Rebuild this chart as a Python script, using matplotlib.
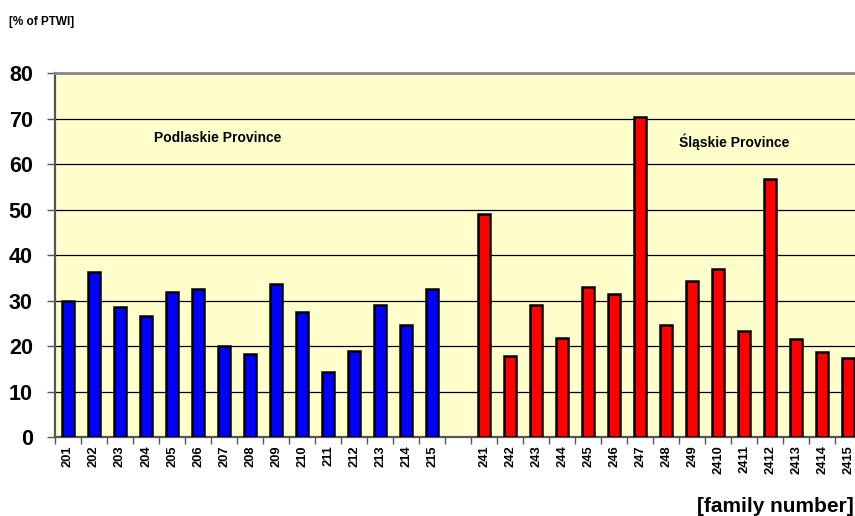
import numpy as np
import matplotlib
matplotlib.use("Agg")
import matplotlib.pyplot as plt

plt.rcParams['font.family'] = ['Liberation Sans', 'DejaVu Sans']

# family numbers and values (% of PTWI)
podlaskie_families = ['201', '202', '203', '204', '205', '206', '207', '208',
                      '209', '210', '211', '212', '213', '214', '215']
podlaskie_values = [30.0, 36.2, 28.5, 26.5, 31.9, 32.6, 20.1, 18.2,
                    33.7, 27.5, 14.3, 19.0, 29.0, 24.6, 32.5]

slaskie_families = ['241', '242', '243', '244', '245', '246', '247', '248',
                    '249', '2410', '2411', '2412', '2413', '2414', '2415']
slaskie_values = [49.0, 17.9, 29.0, 21.8, 32.9, 31.5, 70.4, 24.6,
                  34.4, 36.9, 23.2, 56.6, 21.5, 18.7, 17.4]

# one empty slot between the provinces
labels = podlaskie_families + [''] + slaskie_families
n = len(labels)
x_pod = np.arange(len(podlaskie_families))
x_sla = np.arange(len(slaskie_families)) + len(podlaskie_families) + 1

fig = plt.figure(figsize=(8.55, 5.16), dpi=100)
ax = fig.add_axes([0.0643, 0.153, 0.943, 0.7055])
ax.set_facecolor('#FFFFCC')

ax.bar(x_pod, podlaskie_values, width=0.46, color='#0000FF',
       edgecolor='black', linewidth=1.8, zorder=3)
ax.bar(x_sla, slaskie_values, width=0.46, color='#FF0000',
       edgecolor='black', linewidth=1.8, zorder=3)

ax.set_xlim(-0.5, n - 0.5)
ax.set_ylim(0, 80)
ax.set_yticks(range(0, 81, 10))
ax.yaxis.grid(True, color='black', linewidth=0.9, zorder=1)
ax.set_axisbelow(True)

# labels centred on bars, ticks on category boundaries
ax.set_xticks(np.arange(n))
ax.set_xticklabels(labels, rotation=90, fontsize=9.3, fontweight='bold')
ax.tick_params(axis='x', length=0, pad=6)
ax.set_xticks(np.arange(n + 1) - 0.5, minor=True)
ax.tick_params(axis='x', which='minor', length=5, width=1, color='#555555')
ax.tick_params(axis='y', labelsize=15.5, length=6, width=1, color='#555555', pad=10)
for lab in ax.get_yticklabels():
    lab.set_fontweight('bold')

for side in ['left', 'bottom']:
    ax.spines[side].set_color('#555555')
    ax.spines[side].set_linewidth(1.6)
ax.spines['top'].set_color('#888888')
ax.spines['top'].set_linewidth(2)
ax.spines['right'].set_visible(False)

ax.text(5.77, 65.7, 'Podlaskie Province', ha='center', va='center',
        fontsize=10, fontweight='bold')
ax.text(25.6, 64.8, 'Śląskie Province', ha='center', va='center',
        fontsize=10, fontweight='bold')

fig.text(0.01, 0.957, '[% of PTWI]', ha='left', va='center',
         fontsize=8.5, fontweight='bold')
fig.text(0.998, 0.018, '[family number]', ha='right', va='center',
         fontsize=15, fontweight='bold')

fig.savefig('out.png', dpi=100)
